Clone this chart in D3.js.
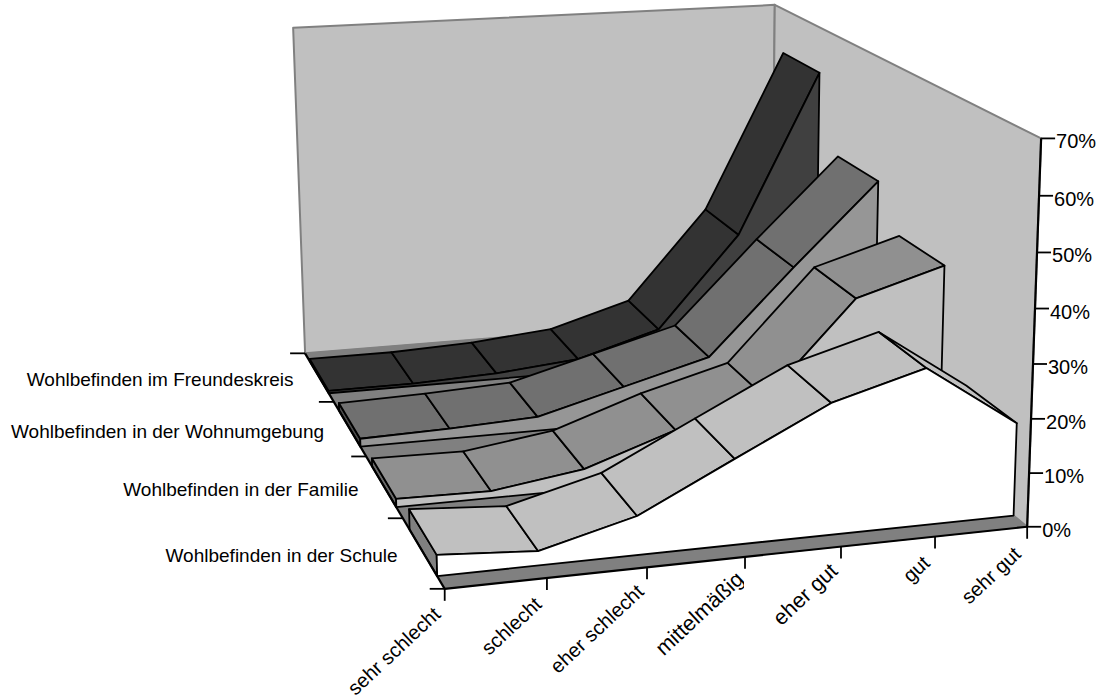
<!DOCTYPE html>
<html><head><meta charset="utf-8">
<script src="https://cdn.jsdelivr.net/npm/d3@7"></script>
<style>body{margin:0;background:#fff}text{font-family:"Liberation Sans",Arial,sans-serif;fill:#000;font-size:19px}.big{font-size:20px}</style>
</head><body><svg id="chart" width="1102" height="699"></svg>
<script>
const categories = ["sehr schlecht","schlecht","eher schlecht","mittelmäßig","eher gut","gut","sehr gut"];
const seriesNames = ["Wohlbefinden in der Schule","Wohlbefinden in der Familie","Wohlbefinden in der Wohnumgebung","Wohlbefinden im Freundeskreis"];
const valueTicks = [0,10,20,30,40,50,60,70];
const schule = [3.8,2.6,7.1,15.7,24.2,29,17.3];
const familie = [1.6,1.3,3.8,9.7,14.3,32.1,37.1];
const wohnumgebung = [1.6,2,2.8,7.4,12,29,45.3];
const freundeskreis = [0.5,0.5,1.2,2.8,7.8,27,60.5];
const seriesValues = [schule,familie,wohnumgebung,freundeskreis];

const topColors = ["#c0c0c0","#909090","#707070","#333333"];
const frontColors = ["#ffffff","#c0c0c0","#969696","#404040"];
const sideColors = ["#808080","#6a6a6a","#4c4c4c","#1a1a1a"];

var svg = d3.select("#chart");
var uScale = d3.scaleLinear().domain([0,categories.length-1]).range([0,1]);
var vScale = d3.scaleLinear().domain([0,seriesNames.length]).range([0,1]);
var wScale = d3.scaleLinear().domain([0,70]).range([0,1]);

// box corners on screen, used to work out the perspective
var corners = [
  [[0,0,0],[445,589]],[[1,0,0],[1027,527]],[[0,1,0],[305,353]],
  [[0,1,1],[293,28]],[[1,0,1],[1041,138]],[[1,1,1],[775,5]]];

function solve(){
  var rows=[],rhs=[];
  corners.forEach(function(c){
    var a=c[0],b=c[1];
    rows.push([a[0],a[1],a[2],1,0,0,0,0,-b[0]*a[0],-b[0]*a[1],-b[0]*a[2]]);rhs.push(b[0]);
    rows.push([0,0,0,0,a[0],a[1],a[2],1,-b[1]*a[0],-b[1]*a[1],-b[1]*a[2]]);rhs.push(b[1]);
  });
  var n=11,M=[];
  for(var i=0;i<n;i++){
    M[i]=[];
    for(var j=0;j<n;j++) M[i][j]=d3.sum(rows,function(r){return r[i]*r[j];});
    M[i][n]=d3.sum(rows,function(r,k){return r[i]*rhs[k];});
  }
  for(var c=0;c<n;c++){
    var m=c;
    for(var r=c+1;r<n;r++) if(Math.abs(M[r][c])>Math.abs(M[m][c])) m=r;
    var t=M[c];M[c]=M[m];M[m]=t;
    for(var r=0;r<n;r++){
      if(r==c) continue;
      var f=M[r][c]/M[c][c];
      for(var k=c;k<=n;k++) M[r][k]-=f*M[c][k];
    }
  }
  return M.map(function(r,i){return r[n]/r[i];});
}
var h = solve();

function p(cat,depth,val){
  var a=uScale(cat),b=vScale(depth),c=wScale(val);
  var d=h[8]*a+h[9]*b+h[10]*c+1;
  return [(h[0]*a+h[1]*b+h[2]*c+h[3])/d,(h[4]*a+h[5]*b+h[6]*c+h[7])/d];
}

var poly = d3.line().curve(d3.curveLinearClosed);
var lastCat = categories.length-1, lastDepth = seriesNames.length, maxVal = 70;

function drawPoly(pts,fill,stroke,width){
  svg.append("path").attr("d",poly(pts)).attr("fill",fill)
    .attr("stroke",stroke).attr("stroke-width",width).attr("stroke-linejoin","round");
}
function drawLine(a,b,stroke,width){
  svg.append("line").attr("x1",a[0]).attr("y1",a[1]).attr("x2",b[0]).attr("y2",b[1])
    .attr("stroke",stroke).attr("stroke-width",width);
}

// walls and floor
drawPoly([p(0,lastDepth,0),p(0,lastDepth,maxVal),p(lastCat,lastDepth,maxVal),p(lastCat,lastDepth,0)],"#c0c0c0","#808080",2);
drawPoly([p(lastCat,lastDepth,0),p(lastCat,lastDepth,maxVal),p(lastCat,0,maxVal),p(lastCat,0,0)],"#c0c0c0","#808080",2);
drawPoly([p(0,0,0),p(lastCat,0,0),p(lastCat,lastDepth,0),p(0,lastDepth,0)],"#808080","#808080",1);

// series, back one first
var gapFront = 0.17, gapBack = 0.83;
d3.range(seriesValues.length-1,-1,-1).forEach(function(s){
  var vals = seriesValues[s], vf = s+gapFront, vb = s+gapBack;
  drawPoly([p(0,vf,vals[0]),p(0,vb,vals[0]),p(0,vb,0),p(0,vf,0)],sideColors[s],"#000",1.8);
  d3.range(vals.length-1).forEach(function(i){
    drawPoly([p(i,vf,vals[i]),p(i+1,vf,vals[i+1]),p(i+1,vb,vals[i+1]),p(i,vb,vals[i])],topColors[s],"#000",1.8);
  });
  var front = vals.map(function(v,i){return p(i,vf,v);});
  front.push(p(lastCat,vf,0));
  front.push(p(0,vf,0));
  drawPoly(front,frontColors[s],"#000",1.8);
});

// axis lines
drawLine(p(0,0,0),p(lastCat,0,0),"#000",2.2);
drawLine(p(0,0,0),p(0,lastDepth,0),"#000",2.2);
drawLine(p(lastCat,0,0),p(lastCat,0,maxVal),"#000",2.2);

// value axis
valueTicks.forEach(function(t){
  var q=p(lastCat,0,t);
  svg.append("line").attr("x1",q[0]).attr("y1",q[1]).attr("x2",q[0]+14).attr("y2",q[1]).attr("stroke","#000").attr("stroke-width",1.8);
  svg.append("text").attr("class","big").attr("x",q[0]+15).attr("y",q[1]+10).text(t+"%");
});

// category axis, the clip cuts the g of mittelmäßig like the original
// middle labels sit a bit further along than the ticks
var labelShift = [2,1,3,5,3,1,0];
var labelSize = [20,20,20,21.5,21.5,20,20];
svg.append("clipPath").attr("id","labelClip").append("rect").attr("x",0).attr("y",0).attr("width",744).attr("height",699);
categories.forEach(function(c,i){
  var q=p(i,0,0);
  svg.append("line").attr("x1",q[0]).attr("y1",q[1]).attr("x2",q[0]).attr("y2",q[1]+12).attr("stroke","#000").attr("stroke-width",1.8);
  var g=svg.append("g");
  if(c=="mittelmäßig") g.attr("clip-path","url(#labelClip)");
  g.append("text").attr("text-anchor","end").style("font-size",labelSize[i]+"px")
    .attr("transform","translate("+(q[0]-5+labelShift[i])+","+(q[1]+29-labelShift[i])+") rotate(-43)").text(c);
});

// series axis
d3.range(seriesNames.length+1).forEach(function(i){
  var q=p(0,i,0);
  svg.append("line").attr("x1",q[0]-15).attr("y1",q[1]).attr("x2",q[0]).attr("y2",q[1]).attr("stroke","#000").attr("stroke-width",1.8);
});
seriesNames.forEach(function(name,i){
  var q=p(0,i+0.5,0);
  svg.append("text").attr("text-anchor","end").attr("x",q[0]-25.5).attr("y",q[1]+9.5).text(name);
});
</script></body></html>
